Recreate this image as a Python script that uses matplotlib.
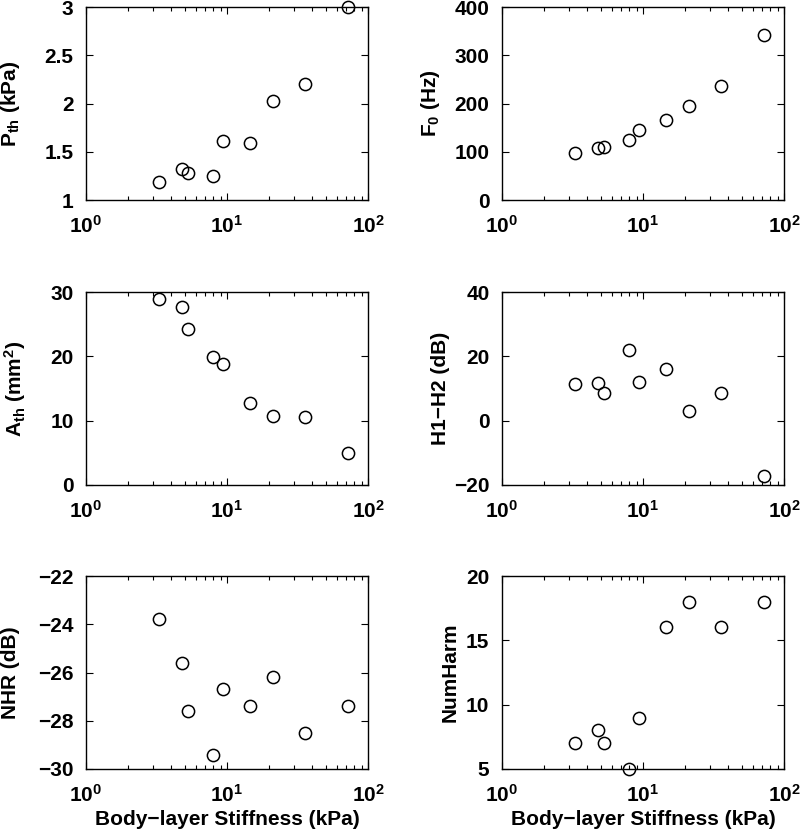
import matplotlib
matplotlib.use("Agg")
import matplotlib.pyplot as plt
from matplotlib.ticker import LogLocator, LogFormatterMathtext, NullFormatter

plt.rcParams['font.family'] = ['Liberation Sans']
plt.rcParams['font.weight'] = 'bold'
plt.rcParams['mathtext.fontset'] = 'custom'
plt.rcParams['mathtext.rm'] = 'Liberation Sans:bold'
plt.rcParams['mathtext.it'] = 'Liberation Sans:bold'
plt.rcParams['mathtext.bf'] = 'Liberation Sans:bold'
plt.rcParams['mathtext.default'] = 'regular'

stiffness = [3.3, 4.8, 5.3, 8.0, 9.3, 14.5, 21.3, 36.0, 72.5]
p_th = [1.19, 1.32, 1.28, 1.25, 1.61, 1.59, 2.03, 2.20, 3.0]
f0 = [98, 107, 109, 124, 145, 165, 195, 237, 342]
a_th = [28.9, 27.7, 24.2, 19.9, 18.8, 12.8, 10.7, 10.6, 5.0]
h1h2 = [11.3, 11.8, 8.5, 21.9, 11.9, 16.1, 3.0, 8.7, -17.3]
nhr = [-23.8, -25.6, -27.6, -29.4, -26.7, -27.4, -26.2, -28.5, -27.4]
numharm = [7, 8, 7, 5, 9, 16, 18, 16, 18]

panels = [
    (p_th, r'P$_{th}$ (kPa)', (1, 3), [1, 1.5, 2, 2.5, 3], ['1', '1.5', '2', '2.5', '3']),
    (f0, r'F$_0$ (Hz)', (0, 400), [0, 100, 200, 300, 400], None),
    (a_th, r'A$_{th}$ (mm$^2$)', (0, 30), [0, 10, 20, 30], None),
    (h1h2, 'H1\u2212H2 (dB)', (-20, 40), [-20, 0, 20, 40], None),
    (nhr, 'NHR (dB)', (-30, -22), [-30, -28, -26, -24, -22], None),
    (numharm, 'NumHarm', (5, 20), [5, 10, 15, 20], None),
]
# right edge (pixels) of each y label
label_right = [22, 442, 28, 450, 20, 460]

W, H = 800, 833
fig = plt.figure(figsize=(W / 100, H / 100), dpi=100)
lefts = [86, 502]
tops = [7, 292, 576]
aw, ah = 282, 193
FS = 15

for i, (vals, ylab, ylim, yt, ytl) in enumerate(panels):
    r, c = divmod(i, 2)
    ax = fig.add_axes([lefts[c] / W, (H - tops[r] - ah) / H, aw / W, ah / H])
    ax.plot(stiffness, vals, 'o', mfc='none', mec='black', ms=8.8, mew=1.1, clip_on=False)
    ax.set_xscale('log')
    ax.set_xlim(1, 100)
    ax.set_ylim(*ylim)
    ax.set_yticks(yt)
    if ytl is not None:
        ax.set_yticklabels(ytl)
    ax.xaxis.set_major_locator(LogLocator(base=10, numticks=5))
    ax.xaxis.set_major_formatter(LogFormatterMathtext())
    ax.xaxis.set_minor_locator(LogLocator(base=10, subs=range(2, 10), numticks=10))
    ax.xaxis.set_minor_formatter(NullFormatter())
    ax.tick_params(which='both', direction='in', top=True, right=True, labelsize=FS, width=0.8)
    ax.tick_params(which='major', length=5)
    ax.tick_params(axis='x', which='major', pad=11)
    ax.tick_params(axis='y', which='major', pad=9)
    ax.tick_params(which='minor', length=3)
    for s in ax.spines.values():
        s.set_linewidth(1.0)
    ax.set_ylabel(ylab, fontsize=FS, fontweight='bold')
    ax.yaxis.set_label_coords((label_right[i] - lefts[c]) / aw, 0.5)
    if r == 2:
        ax.set_xlabel('Body\u2212layer Stiffness (kPa)', fontsize=FS, fontweight='bold', labelpad=3)

fig.savefig('out.png', dpi=100)
